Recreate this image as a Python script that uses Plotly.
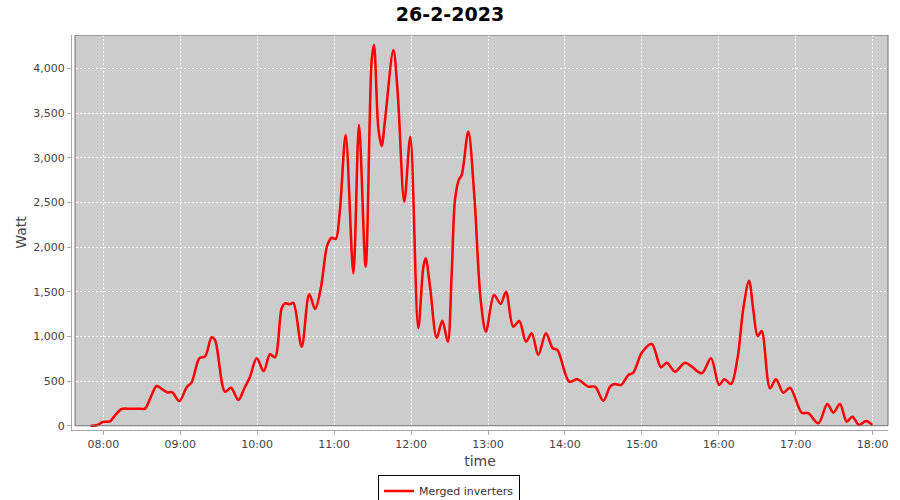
import datetime as dt
import plotly.graph_objects as go

minutes = [-10, -5, -0.5, 2.1, 5.2, 8.3, 14.3, 20.8, 28.6, 32.5, 36.4, 41.6, 45.8, 49.7, 53.6,
           59.3, 65.0, 68.9, 74.9, 79.3, 84.5, 87.1, 94.9, 99.6, 105.3, 110.0, 114.4, 119.6,
           125.1, 130.0, 133.9, 139.1, 141.7, 145.6, 148.2, 154.7, 160.6, 165.2, 169.8, 174.7,
           178.1, 181.2, 184.4, 189.0, 195.0, 199.4, 204.6, 209.3, 211.1, 214.5, 217.1, 219.7,
           226.2, 229.6, 234.7, 239.4, 245.6, 249.6, 251.4, 254.8, 260.0, 264.4, 268.6, 271.7,
           274.3, 277.4, 279.5, 284.6, 289.3, 294.3, 298.4, 304.7, 309.9, 314.0, 319.7, 324.4,
           329.6, 334.1, 339.2, 345.2, 350.5, 354.1, 363.4, 369.6, 378.2, 383.5, 389.9, 395.2,
           398.5, 403.7, 409.4, 413.3, 419.9, 427.7, 434.9, 439.4, 445.8, 453.6, 458.9, 466.7,
           473.9, 480.2, 484.3, 489.5, 494.7, 499.1, 503.6, 506.9, 510.3, 513.4, 519.9, 524.6,
           530.3, 535.5, 544.6, 549.8, 557.6, 564.6, 569.3, 574.5, 579.7, 584.1, 589.3, 594.8,
           599.7]
watt = [0, 5, 42, 45, 48, 100, 187, 190, 190, 192, 300, 445, 410, 374, 375,
        276, 430, 486, 755, 775, 990, 960, 381, 425, 288, 419, 549, 755,
        612, 800, 766, 1315, 1370, 1360, 1375, 885, 1471, 1307, 1557, 2023,
        2105, 2090, 2396, 3255, 1707, 3367, 1781, 4095, 4263, 3330, 3132, 3423,
        4207, 3722, 2508, 3236, 1091, 1781, 1874, 1557, 985, 1176, 941, 1707,
        2535, 2759, 2807, 3292, 2583, 1408, 1053, 1464, 1363, 1501, 1109, 1172,
        941, 1035, 792, 1035, 867, 848, 493, 520, 437, 437, 280, 437,
        467, 456, 568, 594, 818, 915, 654, 706, 605, 706, 661, 587,
        755, 456, 520, 467, 765, 1315, 1624, 1296, 1004, 1060, 419, 520,
        370, 426, 146, 140, 27, 243, 146, 243, 45, 101, 8, 53,
        8]

title_text = "26-2-2023"
series_name = "Merged inverters"
y_ticks = [0, 500, 1000, 1500, 2000, 2500, 3000, 3500, 4000]

base = dt.datetime(2023, 2, 26, 8, 0, 0)
times = [base + dt.timedelta(minutes=m) for m in minutes]

x_start = base - dt.timedelta(minutes=24, seconds=25)
x_end = base + dt.timedelta(hours=10, minutes=11, seconds=56)
y_lo, y_hi = -48, 4375

fig = go.Figure()
fig.add_trace(go.Scatter(
    x=times, y=watt, mode="lines", name=series_name,
    line=dict(color="#FF0000", width=2.5, shape="spline", smoothing=0.9),
))

font = "DejaVu Sans"
fig.update_layout(
    width=900, height=500,
    margin=dict(l=72, r=12, t=35, b=70, autoexpand=False),
    paper_bgcolor="white", plot_bgcolor="white",
    title=dict(text="<b>" + title_text + "</b>", x=0.5, xanchor="center", y=0.972, yanchor="middle",
               font=dict(family=font, size=19, color="black")),
    showlegend=True,
    legend=dict(orientation="h", x=0.462, xanchor="center", y=-0.115, yanchor="top",
                bordercolor="black", borderwidth=1, bgcolor="white",
                font=dict(family=font, size=11, color="#333333"), itemwidth=30),
    font=dict(family=font),
)
fig.update_xaxes(
    type="date", range=[x_start, x_end], dtick=3600000, tickformat="%H:%M",
    showgrid=True, gridcolor="white", griddash="2px,2px", gridwidth=1,
    showline=True, linecolor="#A8A8A8", linewidth=1,
    ticks="outside", ticklen=4, tickcolor="#A8A8A8",
    tickfont=dict(family=font, size=11, color="#444444"),
    title=dict(text="time", font=dict(family=font, size=14, color="#444444"), standoff=5),
    zeroline=False, automargin=False,
)
fig.update_yaxes(
    range=[y_lo, y_hi], tickvals=y_ticks, tickformat=",d",
    showgrid=True, gridcolor="white", griddash="2px,2px", gridwidth=1,
    showline=True, linecolor="#A8A8A8", linewidth=1,
    ticks="outside", ticklen=4, tickcolor="#A8A8A8",
    tickfont=dict(family=font, size=11, color="#444444"),
    title=dict(text="Watt", font=dict(family=font, size=14, color="#444444"), standoff=3),
    zeroline=False, automargin=False,
)
# grey plot background (offset from axis lines), then its outline
fig.add_shape(type="rect", xref="x domain", yref="y", x0=3 / 816, x1=1, y0=0, y1=y_hi,
              fillcolor="#CCCCCC", line=dict(width=0), layer="below")
fig.add_shape(type="rect", xref="x domain", yref="y", x0=3 / 816, x1=1, y0=0, y1=y_hi,
              fillcolor="rgba(0,0,0,0)", line=dict(color="#707070", width=1), layer="above")

fig.write_html("out.html", config={"displayModeBar": False},
               post_script="document.body.style.margin='0px';")
